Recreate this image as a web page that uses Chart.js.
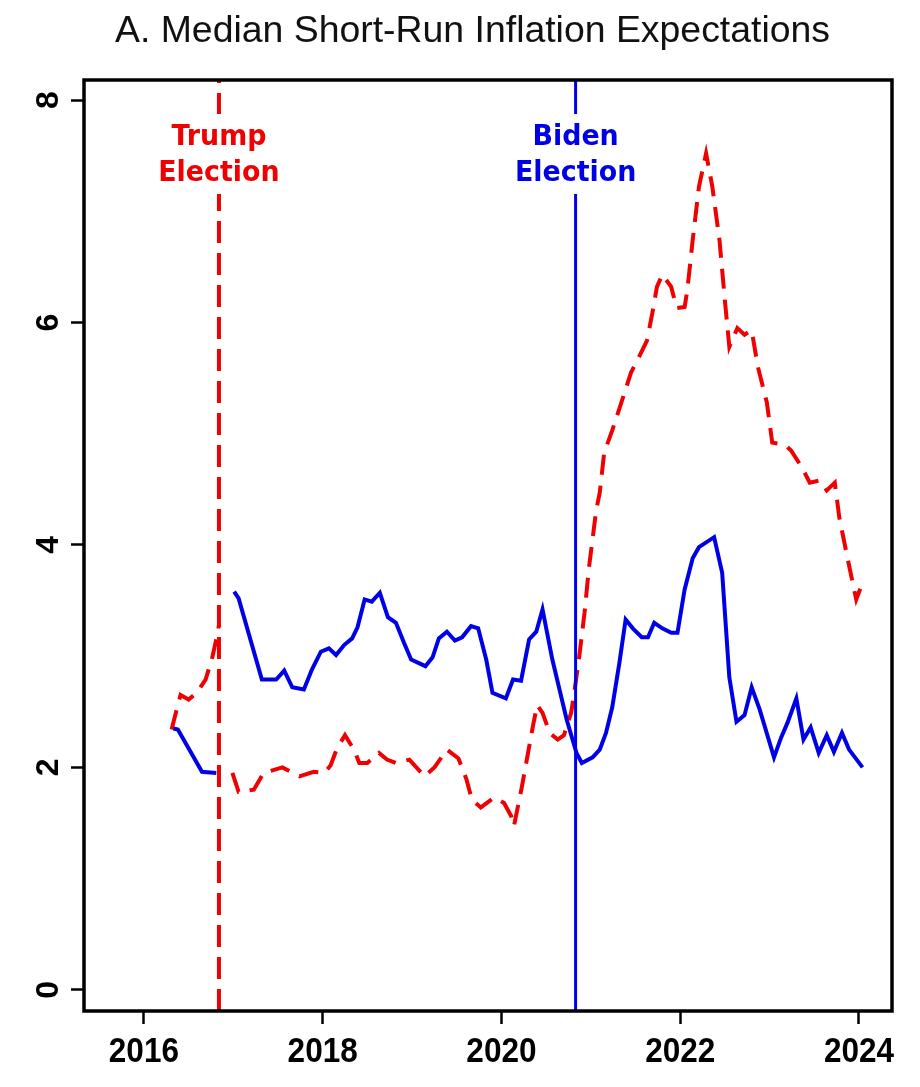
<!DOCTYPE html>
<html>
<head>
<meta charset="utf-8">
<title>Median Short-Run Inflation Expectations</title>
<script src="https://cdn.jsdelivr.net/npm/chart.js@4.4.1/dist/chart.umd.min.js"></script>
<style>
  html, body { margin: 0; padding: 0; background: #fff; }
  #wrap { width: 920px; height: 1087px; position: relative; }
</style>
</head>
<body>
<div id="wrap"><canvas id="chart" width="920" height="1087"></canvas></div>
<script>
// Median short-run inflation expectations (decimal years)
const demYears = [2016.33, 2016.38, 2016.65, 2016.81, null,
  2017.01, 2017.06, 2017.32, 2017.48, 2017.57, 2017.66, 2017.79, 2017.88, 2017.98,
  2018.07, 2018.15, 2018.24, 2018.33, 2018.39, 2018.47, 2018.55, 2018.64, 2018.73, 2018.82, 2018.91, 2018.99,
  2019.15, 2019.23, 2019.30, 2019.39, 2019.48, 2019.56, 2019.66, 2019.74, 2019.83, 2019.90,
  2020.05, 2020.13, 2020.22, 2020.31, 2020.39, 2020.46, 2020.57, 2020.73, 2020.84, 2020.90,
  2021.02, 2021.10, 2021.17, 2021.24, 2021.32, 2021.39, 2021.47, 2021.57, 2021.64, 2021.71, 2021.80, 2021.90, 2021.97,
  2022.05, 2022.14, 2022.21, 2022.38, 2022.47, 2022.55, 2022.63, 2022.72, 2022.80, 2022.89,
  2023.05, 2023.13, 2023.20, 2023.30, 2023.38, 2023.46, 2023.55, 2023.64, 2023.72, 2023.81, 2023.89, 2024.04];
const demValues = [2.35, 2.34, 1.96, 1.95, null,
  3.58, 3.52, 2.79, 2.79, 2.87, 2.72, 2.70, 2.88, 3.04,
  3.07, 3.01, 3.10, 3.16, 3.26, 3.51, 3.49, 3.57, 3.35, 3.30, 3.12, 2.97,
  2.91, 2.99, 3.16, 3.22, 3.14, 3.17, 3.27, 3.25, 2.97, 2.67,
  2.62, 2.79, 2.78, 3.15, 3.22, 3.42, 2.97, 2.43, 2.13, 2.04,
  2.09, 2.16, 2.31, 2.54, 2.94, 3.33, 3.25, 3.17, 3.17, 3.30, 3.25, 3.21, 3.21,
  3.60, 3.88, 3.98, 4.07, 3.75, 2.81, 2.41, 2.47, 2.72, 2.52,
  2.09, 2.27, 2.40, 2.62, 2.25, 2.36, 2.13, 2.29, 2.14, 2.31, 2.16, 2.00];

const repYears = [2016.31, 2016.37, 2016.41, 2016.50, 2016.59, 2016.69, 2016.76, 2016.81, 2016.84, null,
  2016.99, 2017.06, 2017.23, 2017.34, 2017.55, 2017.74, 2017.90,
  2018.02, 2018.09, 2018.16, 2018.25, 2018.35, 2018.41, 2018.50, 2018.63, 2018.72, 2018.82, 2018.97,
  2019.14, 2019.25, 2019.39, 2019.52, 2019.61, 2019.67, 2019.77, 2019.92,
  2020.03, 2020.11, 2020.14, 2020.23, 2020.35, 2020.40, 2020.46, 2020.54, 2020.63, 2020.70, 2020.78, 2020.82, 2020.87, 2020.93, 2020.98,
  2021.06, 2021.10, 2021.15, 2021.24, 2021.35, 2021.45, 2021.54, 2021.63, 2021.69, 2021.74, 2021.80, 2021.90, 2021.96,
  2022.05, 2022.08, 2022.14, 2022.21, 2022.29, 2022.36, 2022.44, 2022.50, 2022.55, 2022.64, 2022.72, 2022.80, 2022.87, 2022.97,
  2023.03, 2023.17, 2023.24, 2023.36, 2023.45, 2023.56, 2023.64, 2023.73, 2023.78, 2023.86, 2023.93, 2023.97, 2024.04];
const repValues = [2.34, 2.53, 2.65, 2.61, 2.67, 2.79, 2.97, 3.15, 3.28, null,
  1.95, 1.78, 1.80, 1.95, 2.00, 1.92, 1.96,
  1.95, 2.02, 2.17, 2.29, 2.16, 2.04, 2.04, 2.13, 2.07, 2.04, 2.07,
  1.92, 2.00, 2.16, 2.08, 1.89, 1.71, 1.64, 1.73,
  1.68, 1.56, 1.47, 1.83, 2.36, 2.56, 2.49, 2.31, 2.25, 2.29, 2.49, 2.70, 2.99, 3.39, 3.80,
  4.31, 4.47, 4.83, 5.03, 5.30, 5.55, 5.69, 5.84, 6.09, 6.32, 6.43, 6.32, 6.13,
  6.14, 6.29, 6.74, 7.22, 7.52, 7.22, 6.74, 6.20, 5.78, 5.95, 5.89, 5.93, 5.60, 5.28,
  4.92, 4.90, 4.85, 4.70, 4.56, 4.58, 4.49, 4.56, 4.25, 3.93, 3.66, 3.51, 3.66];

const electionYears = [2016.84, 2020.83];
const electionLabels = [['Trump', 'Election'], ['Biden', 'Election']];
const xTickLabels = [2016, 2018, 2020, 2022, 2024];
const yTickLabels = [0, 2, 4, 6, 8];
const titleText = 'A. Median Short-Run Inflation Expectations';

const RED = '#f00000';
const BLUE = '#0000e6';
const xMin = 2015.33, xMax = 2024.37, yMin = -0.19, yMax = 8.18;

const toPoints = (xs, ys) => xs.map((x, i) => x === null ? { x: null, y: null } : { x, y: ys[i] });
const vline = x => [{ x, y: yMin }, { x, y: yMax }];

// squeeze text horizontally so it fits a given width
function squeezed(ctx, text, x, y, sx) {
  ctx.save();
  ctx.translate(x, y);
  ctx.scale(sx, 1);
  ctx.fillText(text, 0, 0);
  ctx.restore();
}

// title, frame, rotated y labels, x labels, election captions
const decor = {
  id: 'decor',
  afterDatasetsDraw(chart) {
    const { ctx, scales: { x } } = chart;
    ctx.save();
    ctx.font = 'bold 28px "DejaVu Sans"';
    ctx.textAlign = 'center';
    ctx.textBaseline = 'alphabetic';
    electionYears.forEach((yr, i) => {
      const px = x.getPixelForValue(yr);
      const w = Math.max(...electionLabels[i].map(t => ctx.measureText(t).width)) * 0.96;
      ctx.fillStyle = '#fff';
      ctx.fillRect(px - w / 2 - 3, 114, w + 6, 80);
      ctx.fillStyle = i === 0 ? RED : BLUE;
      squeezed(ctx, electionLabels[i][0], px, 145, 0.96);
      squeezed(ctx, electionLabels[i][1], px, 181, 0.96);
    });
    ctx.restore();
  },
  afterDraw(chart) {
    const { ctx, chartArea: a, scales: { x, y } } = chart;
    ctx.save();
    ctx.strokeStyle = '#000';
    ctx.lineWidth = 3.5;
    ctx.strokeRect(a.left, a.top, a.right - a.left, a.bottom - a.top);

    ctx.fillStyle = '#111';
    ctx.textBaseline = 'alphabetic';
    ctx.textAlign = 'left';
    ctx.font = '36px "Liberation Sans", Arial';
    const tw = ctx.measureText(titleText).width;
    squeezed(ctx, titleText, 115, 42, 715 / tw);

    ctx.fillStyle = '#000';
    ctx.textAlign = 'center';
    ctx.font = 'bold 35px "Liberation Sans", Arial';
    xTickLabels.forEach(v => squeezed(ctx, String(v), x.getPixelForValue(v), 1062, 0.9));

    ctx.font = 'bold 32px "Liberation Sans", Arial';
    yTickLabels.forEach(v => {
      ctx.save();
      ctx.translate(58, y.getPixelForValue(v));
      ctx.rotate(-Math.PI / 2);
      ctx.fillText(String(v), 0, 0);
      ctx.restore();
    });
    ctx.restore();
  }
};

new Chart(document.getElementById('chart'), {
  type: 'line',
  data: {
    datasets: [
      { label: 'Trump election', data: vline(electionYears[0]), borderColor: RED, borderWidth: 4, borderDash: [22, 10], pointRadius: 0 },
      { label: 'Biden election', data: vline(electionYears[1]), borderColor: BLUE, borderWidth: 3, pointRadius: 0 },
      { label: 'Democrats', data: toPoints(demYears, demValues), borderColor: BLUE, borderWidth: 4, pointRadius: 0, tension: 0, spanGaps: false },
      { label: 'Republicans', data: toPoints(repYears, repValues), borderColor: RED, borderWidth: 4, borderDash: [20, 11], pointRadius: 0, tension: 0, spanGaps: false }
    ]
  },
  options: {
    responsive: false,
    animation: false,
    layout: { padding: { top: 80, right: 28, left: 0, bottom: 0 } },
    plugins: { legend: { display: false }, tooltip: { enabled: false }, title: { display: false } },
    scales: {
      x: {
        type: 'linear', min: xMin, max: xMax,
        afterBuildTicks: s => { s.ticks = xTickLabels.map(v => ({ value: v })); },
        afterFit: s => { s.height = 76; },
        ticks: { display: false },
        grid: { display: true, drawOnChartArea: false, drawTicks: true, tickLength: 13, tickWidth: 2.5, tickColor: '#000' },
        border: { display: false }
      },
      y: {
        type: 'linear', min: yMin, max: yMax,
        afterBuildTicks: s => { s.ticks = yTickLabels.map(v => ({ value: v })); },
        afterFit: s => { s.width = 84; },
        ticks: { display: false },
        grid: { display: true, drawOnChartArea: false, drawTicks: true, tickLength: 13, tickWidth: 2.5, tickColor: '#000' },
        border: { display: false }
      }
    }
  },
  plugins: [decor]
});
</script>
</body>
</html>
